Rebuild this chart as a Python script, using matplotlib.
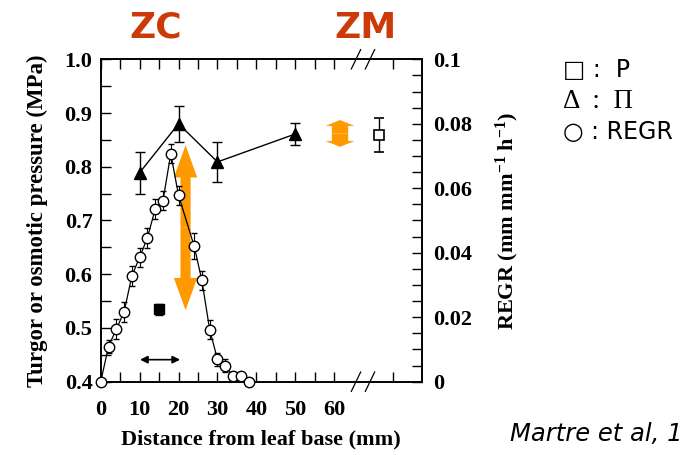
import matplotlib
matplotlib.use("Agg")
import matplotlib.pyplot as plt
import numpy as np

plt.rcParams['font.family'] = ['Liberation Serif', 'DejaVu Serif']
plt.rcParams['mathtext.fontset'] = 'custom'
plt.rcParams['mathtext.rm'] = 'Liberation Serif:bold'
plt.rcParams['mathtext.bf'] = 'Liberation Serif:bold'
plt.rcParams['mathtext.it'] = 'Liberation Serif:bold'

# ---- data ----
# Osmotic pressure (Pi), triangles, left axis (MPa)
pi_x = [10, 20, 30, 50]
pi_y = [0.789, 0.880, 0.809, 0.861]
pi_err = [0.039, 0.033, 0.037, 0.020]

# Turgor (P) filled square in growth zone, left axis
p_zc_x = [15]
p_zc_y = [0.535]
p_zc_err = [0.010]

# Turgor (P) open square in mature zone (after axis break), left axis
p_zm_x = [71.4]
p_zm_y = [0.859]
p_zm_err = [0.032]

# REGR circles, right axis (mm mm-1 h-1)
regr_x = [0, 2, 4, 6, 8, 10, 12, 14, 16, 18, 20, 24, 26, 28, 30, 32, 34, 36, 38]
regr_y = [0.0, 0.0109, 0.0163, 0.0216, 0.0328, 0.0386, 0.0446, 0.0536, 0.0561,
          0.0707, 0.0578, 0.0421, 0.0314, 0.0161, 0.0070, 0.0049, 0.0018, 0.0018, 0.0]
regr_err = [0.0, 0.002, 0.003, 0.003, 0.003, 0.003, 0.003, 0.003, 0.003,
            0.003, 0.003, 0.004, 0.003, 0.003, 0.002, 0.002, 0.001, 0.001, 0.0]

x_ticks = [0, 10, 20, 30, 40, 50, 60, 75]
x_ticklabels = ['0', '10', '20', '30', '40', '50', '60', '']
x_minor = [5, 15, 25, 35, 45, 55]
left_ticks = [0.4, 0.5, 0.6, 0.7, 0.8, 0.9, 1.0]
left_ticklabels = ['0.4', '0.5', '0.6', '0.7', '0.8', '0.9', '1.0']
right_ticks = [0, 0.02, 0.04, 0.06, 0.08, 0.1]
right_ticklabels = ['0', '0.02', '0.04', '0.06', '0.08', '0.1']

# annotation ranges
zc_arrow = (21.8, 0.533, 0.840)   # x, y bottom, y top
zm_arrow = (61.5, 0.837, 0.887)
zone_arrow = (10.1, 20.4, 0.441)  # x start, x end, y

ORANGE = '#ff9900'
RED = '#cc3a0a'

fig = plt.figure(figsize=(6.88, 4.55), dpi=100)
ax = fig.add_axes([0.1464, 0.1611, 0.4666, 0.7086])
ax2 = ax.twinx()

ax.set_xlim(0, 82.5)
ax.set_ylim(0.4, 1.0)
ax2.set_ylim(0, 0.1)

# REGR (right axis)
ax2.errorbar(regr_x, regr_y, yerr=regr_err, fmt='-o', color='black', lw=0.9,
             mfc='white', mec='black', mew=1.0, ms=7.5, capsize=2.5, elinewidth=0.8,
             clip_on=False, zorder=3)

# Pi triangles
ax.errorbar(pi_x, pi_y, yerr=pi_err, fmt='-^', color='black', lw=1.0,
            mfc='black', mec='black', ms=8.5, capsize=3.5, elinewidth=1.0, zorder=4)
# P squares
ax.errorbar(p_zc_x, p_zc_y, yerr=p_zc_err, fmt='s', color='black',
            mfc='black', mec='black', ms=7, capsize=3, elinewidth=1.0, zorder=4)
ax.errorbar(p_zm_x, p_zm_y, yerr=p_zm_err, fmt='s', color='black',
            mfc='white', mec='black', mew=1.2, ms=7.5, capsize=3.5, elinewidth=1.0, zorder=4)

# big orange double arrow
x0, yb, yt = zc_arrow
ym = (yb + yt) / 2
for d in (yt - ym, yb - ym):
    ax.arrow(x0, ym, 0, d, width=2.6, head_width=6.0, head_length=0.06,
             length_includes_head=True, color=ORANGE, lw=0, zorder=5)
x0, yb, yt = zm_arrow
ym = (yb + yt) / 2
for d in (yt - ym, yb - ym):
    ax.arrow(x0, ym, 0, d, width=4.2, head_width=7.4, head_length=0.011,
             length_includes_head=True, color=ORANGE, lw=0, zorder=5)

# black zone arrow
xa, xb, ya = zone_arrow
ax.annotate('', xy=(xb, ya), xytext=(xa, ya),
            arrowprops=dict(arrowstyle='<|-|>', color='black', lw=1.2,
                            mutation_scale=11, shrinkA=0, shrinkB=0))

# ticks
ax.set_xticks(x_ticks)
ax.set_xticklabels(x_ticklabels)
ax.set_xticks(x_minor, minor=True)
ax.set_yticks(left_ticks)
ax.set_yticklabels(left_ticklabels)
ax.set_yticks(np.arange(0.45, 1.0, 0.1), minor=True)
ax2.set_yticks(right_ticks)
ax2.set_yticklabels(right_ticklabels)
ax2.set_yticks(np.arange(0.005, 0.1, 0.005), minor=True)

for a in (ax, ax2):
    a.tick_params(which='both', direction='in', length=7, width=1.0,
                  labelsize=16, pad=6)
ax.tick_params(axis='x', which='both', top=True, bottom=True, pad=13)
ax.tick_params(axis='y', which='both', left=True, right=False)
ax2.tick_params(axis='y', which='both', right=True, left=False, pad=8)
for lab in ax.get_xticklabels() + ax.get_yticklabels() + ax2.get_yticklabels():
    lab.set_fontweight('bold')

for a in (ax, ax2):
    for s in a.spines.values():
        s.set_linewidth(1.2)

ax.set_xlabel('Distance from leaf base (mm)', fontsize=16, fontweight='bold', labelpad=7)
ax.set_ylabel('Turgor or osmotic pressure (MPa)', fontsize=16.5, fontweight='bold', labelpad=12)
ax2.set_ylabel(r'REGR (mm mm$^{\mathbf{-1}}$ h$^{\mathbf{-1}}$)', fontsize=16,
               fontweight='bold', labelpad=16)

# axis break marks
for xb_ in (65.6, 69.2):
    for yy in (0.0, 1.0):
        ax.plot([xb_ - 1.2, xb_ + 1.2], [yy - 0.03, yy + 0.03], color='black', lw=0.9,
                transform=ax.get_xaxis_transform(), clip_on=False, zorder=6)

# zone labels
fig.text(156 / 688, 1 - 28 / 455, 'ZC', color=RED, fontsize=26, fontweight='bold',
         family='DejaVu Sans', ha='center', va='center')
fig.text(366 / 688, 1 - 28 / 455, 'ZM', color=RED, fontsize=26, fontweight='bold',
         family='DejaVu Sans', ha='center', va='center')

# legend text
fig.text(563 / 688, 1 - 70 / 455, '□ :  P', fontsize=17, family=['DejaVu Sans'],
         ha='left', va='center')
fig.text(563 / 688, 1 - 101 / 455, 'Δ  :  Π', fontsize=19.5, family=['Liberation Serif', 'DejaVu Sans'],
         ha='left', va='center')
fig.text(563 / 688, 1 - 132 / 455, '○ : REGR', fontsize=17, family=['DejaVu Sans'],
         ha='left', va='center')

fig.text(510 / 688, 1 - 434 / 455, 'Martre et al, 1', fontsize=17.5, style='italic',
         family='DejaVu Sans', ha='left', va='center')

fig.savefig('out.png', dpi=100)
